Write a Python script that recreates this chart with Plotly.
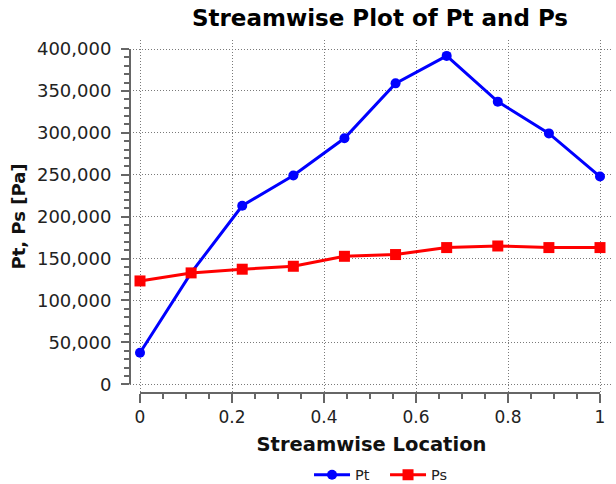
import plotly.graph_objects as go

# Streamwise stations (normalised location) and pressures [Pa]
location = [0, 1/9, 2/9, 3/9, 4/9, 5/9, 6/9, 7/9, 8/9, 1]
pt_values = [37600, 132900, 213000, 249000, 293500, 359000, 391800, 337200, 299300, 247800]
ps_values = [123300, 132900, 137300, 140800, 152700, 154800, 163100, 165000, 163100, 163100]

x_ticks = [0, 0.2, 0.4, 0.6, 0.8, 1]
y_ticks = [0, 50000, 100000, 150000, 200000, 250000, 300000, 350000, 400000]

FONT = "DejaVu Sans"
AXIS_COLOR = "#666666"
GRID_COLOR = "#7a7a7a"
GRID_DASH = "1px,2px"

fig = go.Figure()
fig.add_trace(go.Scatter(
    x=location, y=pt_values, name="Pt", mode="lines+markers",
    line=dict(color="#0000ff", width=3),
    marker=dict(symbol="circle", size=10, color="#0000ff"),
))
fig.add_trace(go.Scatter(
    x=location, y=ps_values, name="Ps", mode="lines+markers",
    line=dict(color="#ff0000", width=3),
    marker=dict(symbol="square", size=11, color="#ff0000"),
))

x_minor = [i * 0.05 for i in range(21)]
y_minor = [i * 10000 for i in range(41)]

fig.update_layout(
    width=616, height=484,
    margin=dict(l=130, r=3, t=40, b=91),
    paper_bgcolor="white", plot_bgcolor="white",
    font=dict(family=FONT, color="#222222"),
    title=dict(
        text="<b>Streamwise Plot of Pt and Ps</b>",
        font=dict(family=FONT, size=23, color="#000000"),
        x=0.5176, xanchor="center", xref="paper",
        y=0.962, yanchor="middle", yref="container",
    ),
    xaxis=dict(
        range=[-0.02174, 1.02826], automargin=False,
        tickmode="array", tickvals=x_ticks,
        ticks="outside", ticklen=9, tickwidth=1.5, tickcolor=AXIS_COLOR,
        tickfont=dict(family=FONT, size=17, color="#222222"),
        showgrid=True, gridcolor=GRID_COLOR, griddash=GRID_DASH, gridwidth=1,
        zeroline=False, showline=False,
        minor=dict(tickmode="array", tickvals=x_minor, ticks="outside",
                   ticklen=5, tickwidth=1.5, tickcolor=AXIS_COLOR, showgrid=False),
        title=dict(text="<b>Streamwise Location</b>",
                   font=dict(family=FONT, size=19.5, color="#111111"), standoff=10),
    ),
    yaxis=dict(
        range=[-10380, 410740], automargin=False,
        tickmode="array", tickvals=y_ticks, tickformat=",",
        ticks="outside", ticklen=8, tickwidth=1.5, tickcolor=AXIS_COLOR,
        tickfont=dict(family=FONT, size=18, color="#222222"),
        ticklabelstandoff=6,
        showgrid=True, gridcolor=GRID_COLOR, griddash=GRID_DASH, gridwidth=1,
        zeroline=False, showline=False,
        minor=dict(tickmode="array", tickvals=y_minor, ticks="outside",
                   ticklen=5, tickwidth=1.5, tickcolor=AXIS_COLOR, showgrid=False),
        title=dict(text="<b>Pt, Ps [Pa]</b>",
                   font=dict(family=FONT, size=18, color="#111111"), standoff=6),
    ),
    legend=dict(
        orientation="h", x=0.528, xanchor="center",
        y=0.019, yanchor="middle", yref="container",
        font=dict(family=FONT, size=14.5, color="#222222"),
        itemwidth=36, entrywidth=25,
        bgcolor="rgba(0,0,0,0)",
    ),
    showlegend=True,
)

# Axis lines spanning only the data extent, offset from the grid area
fig.add_shape(type="line", xref="x", yref="paper", x0=0, x1=1, y0=0, y1=0,
              line=dict(color=AXIS_COLOR, width=2))
fig.add_shape(type="line", xref="paper", yref="y", x0=0, x1=0, y0=0, y1=400000,
              line=dict(color=AXIS_COLOR, width=2))

fig.write_html("out.html")
